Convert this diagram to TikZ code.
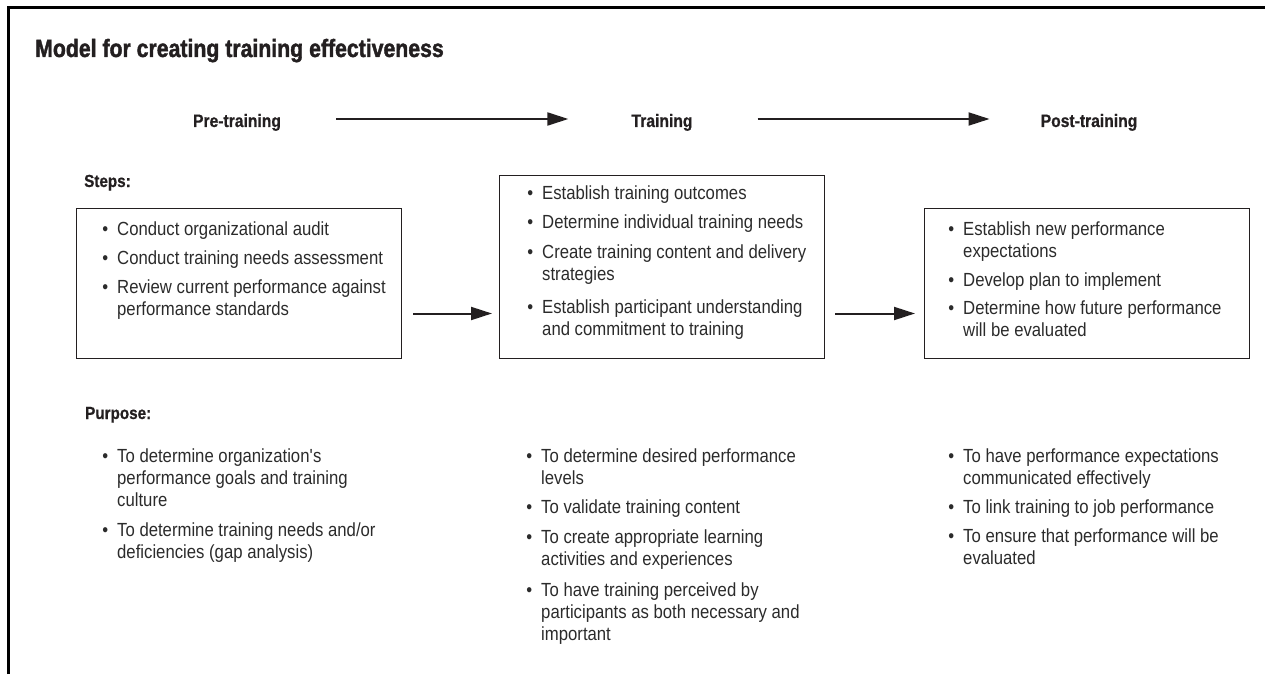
\documentclass[tikz,border=0pt]{standalone}
\usepackage{fontspec}
\setmainfont[FakeStretch=0.88]{Liberation Sans}
\newfontfamily\heavyfont[FakeStretch=0.85,FakeBold=1.6]{Liberation Sans Bold}
\newfontfamily\semiheavy[FakeStretch=0.87,FakeBold=0.8]{Liberation Sans Bold}
\usetikzlibrary{arrows.meta}
\definecolor{ink}{HTML}{231F20}
\definecolor{bodyink}{HTML}{2B2B2B}
\newcommand\bitem[1]{\llap{\textbullet\hspace{9pt}}\parbox[t]{340pt}{\raggedright #1}}
\begin{document}
\begin{tikzpicture}[x=1pt,y=-1pt,
  txt/.style={anchor=base west, inner sep=0pt, text=bodyink, font=\fontsize{19}{22.3}\selectfont},
  head/.style={anchor=base, inner sep=0pt, text=ink, font=\semiheavy\fontsize{18}{20}\selectfont},
  lbl/.style={anchor=base west, inner sep=0pt, text=ink, font=\semiheavy\fontsize{17.5}{20}\selectfont},
  titlestyle/.style={anchor=base west, inner sep=0pt, text=ink, font=\heavyfont\fontsize{25}{28}\selectfont},
  stepbox/.style={draw=ink, line width=1.1pt, anchor=north west, inner sep=0pt},
  bigarrow/.style={draw=ink, line width=2pt, -{Triangle[length=21pt,width=13pt]}},
]
\useasboundingbox (0,0) rectangle (1265,674);
% frame
\draw[line width=3pt, line join=miter, draw=black] (8,674) -- (8,7.5) -- (1265,7.5);

% title
\node[titlestyle] (title) at (35,57) {Model for creating training effectiveness};

% phase headings
\node[head] (pre) at (237,127) {Pre-training};
\node[head] (tr) at (662,127) {Training};
\node[head] (post) at (1089,127) {Post-training};
\coordinate (toprow) at (0,119);
\draw[bigarrow, shorten <=55pt, shorten >=63pt] (pre.east |- toprow) -- (tr.west |- toprow);
\draw[bigarrow, shorten <=65pt, shorten >=51pt] (tr.east |- toprow) -- (post.west |- toprow);

% labels
\node[lbl] (steps) at (84,187) {Steps:};
\node[lbl] (purpose) at (85,419) {Purpose:};

% boxes
\node[stepbox, minimum width=325pt, minimum height=150pt] (b1) at (76,208) {};
\node[stepbox, minimum width=325pt, minimum height=183pt] (b2) at (499,175) {};
\node[stepbox, minimum width=325pt, minimum height=150pt] (b3) at (924,208) {};
\coordinate (arow) at (0,313.5);
\draw[bigarrow, shorten <=11pt, shorten >=7pt] (b1.east |- arow) -- (b2.west |- arow);
\draw[bigarrow, shorten <=10pt, shorten >=9pt] (b2.east |- arow) -- (b3.west |- arow);

% box 1 items
\node[txt] (s11) at (117,235) {\bitem{Conduct organizational audit}};
\node[txt] (s12) at (117,264) {\bitem{Conduct training needs assessment}};
\node[txt] (s13) at (117,293) {\bitem{Review current performance against\\performance standards}};

% box 2 items
\node[txt] (s21) at (542,199) {\bitem{Establish training outcomes}};
\node[txt] (s22) at (542,228) {\bitem{Determine individual training needs}};
\node[txt] (s23) at (542,258) {\bitem{Create training content and delivery\\strategies}};
\node[txt] (s24) at (542,313) {\bitem{Establish participant understanding\\and commitment to training}};

% box 3 items
\node[txt] (s31) at (963,235) {\bitem{Establish new performance\\expectations}};
\node[txt] (s32) at (963,286) {\bitem{Develop plan to implement}};
\node[txt] (s33) at (963,314) {\bitem{Determine how future performance\\will be evaluated}};

% purpose column 1
\node[txt] (p11) at (117,462) {\bitem{To determine organization\textquotesingle s\\performance goals and training\\culture}};
\node[txt] (p12) at (117,536) {\bitem{To determine training needs and/or\\deficiencies (gap analysis)}};

% purpose column 2
\node[txt] (p21) at (541,462) {\bitem{To determine desired performance\\levels}};
\node[txt] (p22) at (541,513) {\bitem{To validate training content}};
\node[txt] (p23) at (541,543) {\bitem{To create appropriate learning\\activities and experiences}};
\node[txt] (p24) at (541,596) {\bitem{To have training perceived by\\participants as both necessary and\\important}};

% purpose column 3
\node[txt] (p31) at (963,462) {\bitem{To have performance expectations\\communicated effectively}};
\node[txt] (p32) at (963,513) {\bitem{To link training to job performance}};
\node[txt] (p33) at (963,542) {\bitem{To ensure that performance will be\\evaluated}};
\end{tikzpicture}
\end{document}
